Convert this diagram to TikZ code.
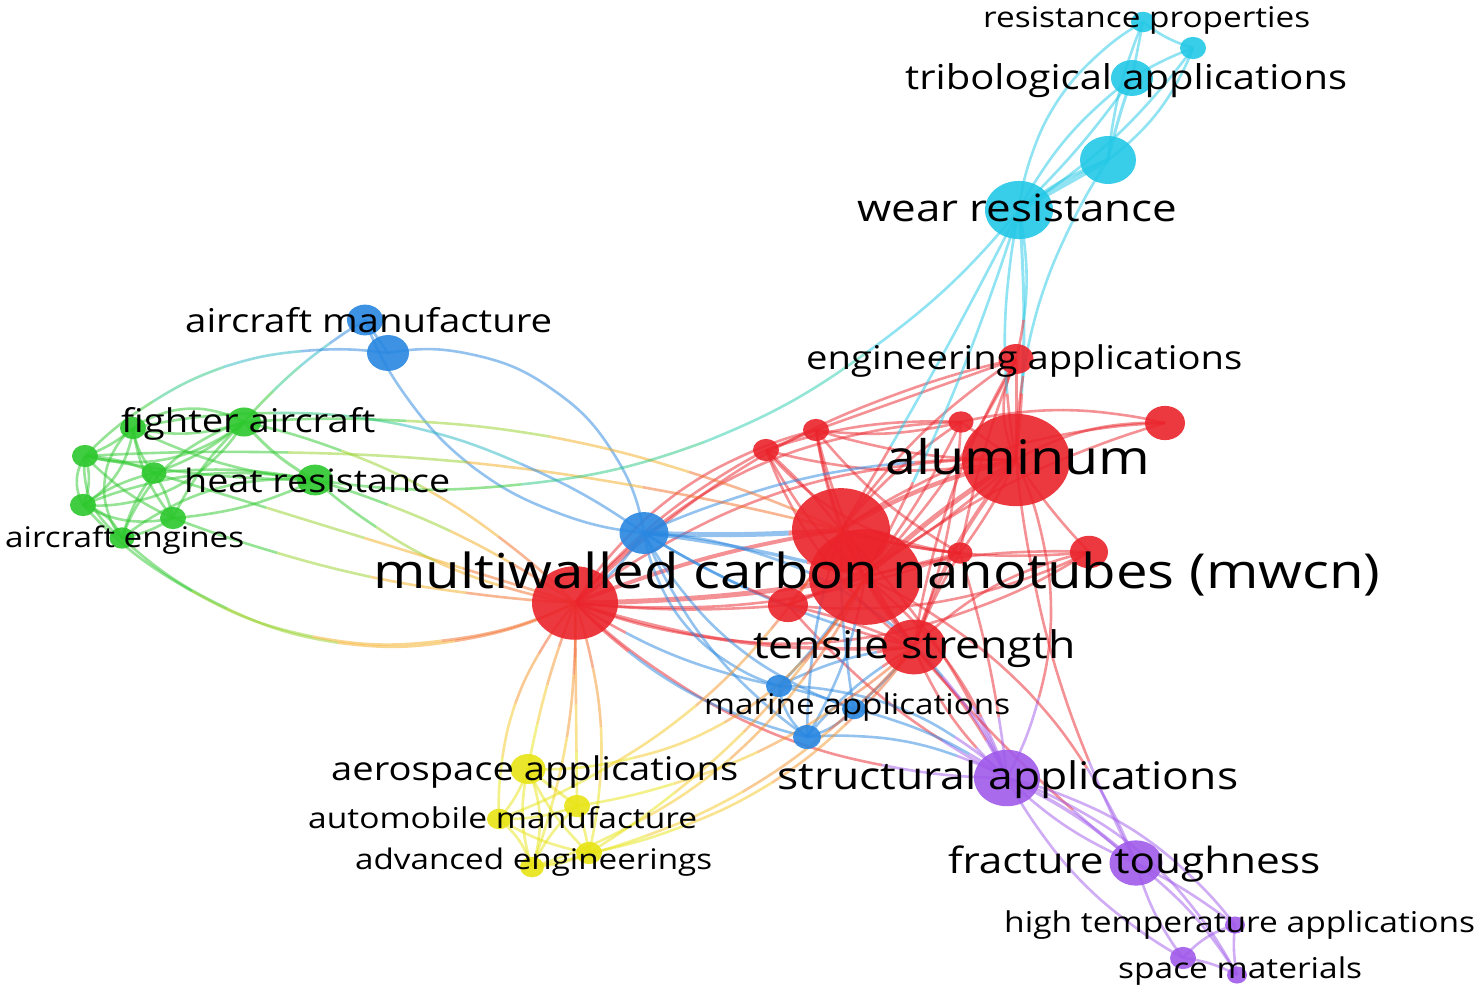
\documentclass[tikz,border=0pt]{standalone}
\usepackage{fontspec}
\setmainfont{Open Sans}
\usepackage{graphicx}
\usetikzlibrary{shapes.geometric}
\pgfdeclarelayer{back}
\pgfdeclarelayer{bg}
\pgfsetlayers{back,bg,main}
% cluster colours
\definecolor{R}{RGB}{235,36,44}
\definecolor{G}{RGB}{45,200,45}
\definecolor{B}{RGB}{40,135,225}
\definecolor{Y}{RGB}{232,228,20}
\definecolor{C}{RGB}{35,200,230}
\definecolor{P}{RGB}{160,90,235}
% blend colours
\definecolor{Lime}{RGB}{150,210,40}
\definecolor{Amb}{RGB}{245,175,35}
\definecolor{Org}{RGB}{242,110,40}
\definecolor{Teal1}{RGB}{40,200,130}
\definecolor{Teal2}{RGB}{40,185,195}
\definecolor{Teal3}{RGB}{40,205,175}
\definecolor{YO1}{RGB}{245,200,35}
\definecolor{YO2}{RGB}{245,150,40}
\definecolor{YO3}{RGB}{240,100,40}
\definecolor{BR1}{RGB}{110,115,220}
\definecolor{BR2}{RGB}{200,75,135}
\definecolor{BP1}{RGB}{80,120,232}
\definecolor{BP2}{RGB}{120,105,235}
\definecolor{RP1}{RGB}{228,55,120}
\definecolor{RP2}{RGB}{220,80,200}
\definecolor{CR1}{RGB}{110,170,180}
\definecolor{CR2}{RGB}{190,105,115}
\newcommand\mypal[5]{\colorlet{#11}{#2}\colorlet{#12}{#3}\colorlet{#13}{#4}\colorlet{#14}{#5}}
\mypal{RR}{R}{R}{R}{R}
\mypal{GG}{G}{G}{G}{G}
\mypal{BB}{B}{B}{B}{B}
\mypal{YY}{Y}{Y}{Y}{Y}
\mypal{CC}{C}{C}{C}{C}
\mypal{PP}{P}{P}{P}{P}
\mypal{GR}{G}{Lime}{Amb}{Org}
\mypal{GB}{G}{Teal1}{Teal2}{B}
\mypal{GC}{G}{Teal1}{Teal3}{C}
\mypal{YR}{Y}{YO1}{YO2}{YO3}
\mypal{BR}{B}{BR1}{BR2}{R}
\mypal{BP}{B}{BP1}{BP2}{P}
\mypal{RP}{R}{RP1}{RP2}{P}
\mypal{CR}{C}{CR1}{CR2}{R}
\tikzset{
  kw/.style={ellipse,inner sep=0pt,outer sep=0pt,draw=none,fill opacity=.9},
  lnk/.style={draw opacity=.5},
  lab/.style={anchor=base west,inner sep=0pt,text=black}
}
\newcommand\mynode[5]{%
  \pgfmathsetmacro\ndw{2*#5}\pgfmathsetmacro\ndh{2*#5/1.17}%
  \node[kw,fill=#2,minimum width=\ndw pt,minimum height=\ndh pt] (#1) at (#3,#4) {};}
\newcommand\mylab[5]{\node[lab] (#1) at (#2,#3) {\resizebox{#4pt}{!}{\scalebox{1}[0.855]{#5}}};}
\newcommand\mylink[5][2.6]{%
  \pgfmathsetmacro\bq{(#4)/4}%
  \path (#2.center) to[bend left=#4] coordinate[pos=.25] (q1) coordinate[pos=.5] (q2) coordinate[pos=.75] (q3) (#3.center);%
  \draw[lnk,line width=#1pt,#51] (#2.center) to[bend left=\bq] (q1);%
  \draw[lnk,line width=#1pt,#52] (q1) to[bend left=\bq] (q2);%
  \draw[lnk,line width=#1pt,#53] (q2) to[bend left=\bq] (q3);%
  \draw[lnk,line width=#1pt,#54] (q3) to[bend left=\bq] (#3.center);}
\begin{document}
\begin{tikzpicture}[x=1pt,y=-1pt]
\begin{pgfonlayer}{back}
\fill[white] (0,0) rectangle (1478,995);
\end{pgfonlayer}
\useasboundingbox (0,0) rectangle (1478,995);
% ---------- nodes ----------
% cyan
\mynode{rp}{C}{1143}{22}{12}
\mynode{c2}{C}{1193}{48}{13}
\mynode{tr}{C}{1132}{78}{21}
\mynode{c4}{C}{1108}{160}{28}
\mynode{wr}{C}{1019}{210}{34}
% blue
\mynode{am}{B}{365}{320}{18}
\mynode{b2}{B}{388}{353}{21}
\mynode{b3}{B}{644}{533}{24.5}
\mynode{ma1}{B}{779}{686}{13}
\mynode{ma}{B}{854}{709}{12}
\mynode{b6}{B}{807}{737}{14}
% green
\mynode{fa}{G}{244}{422}{17}
\mynode{g1}{G}{133}{428}{13}
\mynode{g2}{G}{85}{456}{13}
\mynode{g3}{G}{154}{473}{12.5}
\mynode{hr}{G}{315}{480}{18}
\mynode{g4}{G}{83}{505}{13}
\mynode{g5}{G}{173}{518}{13}
\mynode{ae}{G}{122}{538}{12.5}
% yellow
\mynode{as}{Y}{528}{769}{17.5}
\mynode{y2}{Y}{577}{806}{13}
\mynode{au}{Y}{499}{819}{12}
\mynode{y4}{Y}{589}{853}{13}
\mynode{ad}{Y}{532}{867}{12}
% red
\mynode{ea}{R}{1016}{359}{17.5}
\mynode{r7}{R}{961}{422}{12.5}
\mynode{r8}{R}{816}{430}{13}
\mynode{r9}{R}{766}{450}{13}
\mynode{r10}{R}{1165}{423}{20}
\mynode{al}{R}{1016}{460}{54}
\mynode{r11}{R}{1089}{552}{19}
\mynode{r12}{R}{960}{553}{12.5}
\mynode{r1}{R}{841}{530}{49}
\mynode{mw}{R}{865}{577}{56}
\mynode{r5}{R}{788}{605}{20}
\mynode{r3}{R}{575}{603}{43}
\mynode{ts}{R}{914}{647}{32}
% purple
\mynode{st}{P}{1007}{778}{33}
\mynode{ft}{P}{1136}{863}{26.5}
\mynode{ht}{P}{1235}{925}{10}
\mynode{p4}{P}{1183}{958}{13}
\mynode{sm}{P}{1237}{975}{10}
% ---------- links ----------
\begin{pgfonlayer}{bg}
% red
\mylink[5]{r3}{mw}{-4}{RR}
\mylink[4]{r3}{r1}{6}{RR}
\mylink[3.5]{r3}{ts}{-10}{RR}
\mylink{r3}{r5}{-5}{RR}
\mylink{r3}{r9}{10}{RR}
\mylink{r3}{r8}{20}{RR}
\mylink{r3}{al}{18}{RR}
\mylink{r3}{ea}{15}{RR}
\mylink{r3}{r12}{-12}{RR}
\mylink{r3}{r11}{-25}{RR}
\mylink{r3}{r7}{22}{RR}
\mylink[4]{r1}{mw}{0}{RR}
\mylink[4.5]{r1}{al}{8}{RR}
\mylink[3.5]{r1}{ts}{-8}{RR}
\mylink{r1}{r5}{5}{RR}
\mylink{r1}{r7}{8}{RR}
\mylink{r1}{r8}{5}{RR}
\mylink{r1}{r9}{-5}{RR}
\mylink{r1}{ea}{10}{RR}
\mylink{r1}{r10}{15}{RR}
\mylink{r1}{r11}{-10}{RR}
\mylink{r1}{r12}{-5}{RR}
\mylink[5]{mw}{al}{5}{RR}
\mylink[4]{mw}{ts}{0}{RR}
\mylink{mw}{r5}{0}{RR}
\mylink{mw}{r11}{8}{RR}
\mylink{mw}{r12}{0}{RR}
\mylink{mw}{ea}{-8}{RR}
\mylink{mw}{r10}{10}{RR}
\mylink{mw}{r7}{-5}{RR}
\mylink{mw}{r8}{8}{RR}
\mylink{mw}{r9}{10}{RR}
\mylink[4]{al}{ts}{-10}{RR}
\mylink[3]{al}{ea}{0}{RR}
\mylink{al}{ea}{25}{RR}
\mylink{al}{r7}{0}{RR}
\mylink{al}{r8}{8}{RR}
\mylink{al}{r9}{12}{RR}
\mylink{al}{r10}{15}{RR}
\mylink{al}{r11}{-5}{RR}
\mylink{al}{r12}{5}{RR}
\mylink{al}{r5}{10}{RR}
\mylink{ts}{r11}{15}{RR}
\mylink{ts}{r12}{5}{RR}
\mylink{ts}{r5}{-5}{RR}
\mylink{ts}{ea}{10}{RR}
\mylink{ts}{r8}{10}{RR}
\mylink{ts}{r9}{15}{RR}
\mylink{ts}{r7}{-8}{RR}
\mylink{r8}{r9}{0}{RR}
\mylink{r9}{r7}{10}{RR}
\mylink{r8}{r7}{-10}{RR}
\mylink{r8}{r12}{-10}{RR}
\mylink{r5}{r11}{-15}{RR}
\mylink{r10}{r7}{-12}{RR}
\mylink{ea}{r8}{0}{RR}
\mylink{ea}{r12}{-5}{RR}
\mylink{r9}{r12}{-20}{RR}
% red - purple
\mylink{al}{st}{25}{RP}
\mylink{mw}{st}{15}{RP}
\mylink{ts}{st}{8}{RP}
\mylink{ts}{st}{-12}{RP}
\mylink{r3}{st}{-20}{RP}
\mylink{r1}{st}{10}{RP}
\mylink{al}{ft}{-10}{RP}
\mylink{mw}{ft}{20}{RP}
\mylink{ts}{ft}{-5}{RP}
\mylink{r5}{st}{-10}{RP}
\mylink{r12}{st}{5}{RP}
% purple
\mylink[3.5]{st}{ft}{8}{PP}
\mylink{st}{ft}{-10}{PP}
\mylink{st}{ht}{18}{PP}
\mylink{st}{sm}{20}{PP}
\mylink{st}{p4}{-15}{PP}
\mylink{ft}{ht}{5}{PP}
\mylink{ft}{sm}{10}{PP}
\mylink{ft}{p4}{-10}{PP}
\mylink{ht}{sm}{-8}{PP}
\mylink{ht}{p4}{-15}{PP}
\mylink{p4}{sm}{10}{PP}
% blue
\mylink{am}{b2}{0}{BB}
\mylink{b2}{b3}{45}{BB}
\mylink{am}{b3}{-30}{BB}
\mylink[5]{b3}{r1}{-3}{BR}
\mylink[3.5]{b3}{mw}{4}{BR}
\mylink{b3}{ts}{-8}{BR}
\mylink{b3}{al}{12}{BR}
\mylink{b3}{r5}{-5}{BR}
\mylink{b3}{ma1}{-30}{BB}
\mylink{b3}{ma}{-20}{BB}
\mylink{b3}{b6}{-15}{BB}
\mylink{b3}{r3}{10}{BR}
\mylink{b3}{st}{30}{BP}
\mylink{ma1}{ma}{5}{BB}
\mylink{ma1}{b6}{-20}{BB}
\mylink{ma}{b6}{15}{BB}
\mylink{ma1}{ts}{10}{BR}
\mylink{ma}{ts}{-5}{BR}
\mylink{b6}{ts}{10}{BR}
\mylink{ma1}{mw}{-5}{BR}
\mylink{b6}{mw}{-10}{BR}
\mylink{ma}{r1}{5}{BR}
\mylink{b6}{r1}{8}{BR}
\mylink{ma1}{st}{20}{BP}
\mylink{ma}{st}{10}{BP}
\mylink{b6}{st}{15}{BP}
\mylink{ma1}{r3}{10}{BR}
\mylink{b6}{r3}{15}{BR}
% cyan
\mylink[5]{wr}{c4}{0}{CC}
\mylink[3]{wr}{c4}{8}{CC}
\mylink{wr}{tr}{12}{CC}
\mylink{wr}{tr}{-5}{CC}
\mylink{wr}{rp}{25}{CC}
\mylink{wr}{c2}{-10}{CC}
\mylink[3]{c4}{tr}{3}{CC}
\mylink{c4}{rp}{8}{CC}
\mylink{c4}{c2}{-15}{CC}
\mylink{tr}{rp}{0}{CC}
\mylink{tr}{c2}{5}{CC}
\mylink{rp}{c2}{-10}{CC}
\mylink[3]{wr}{al}{5}{CR}
\mylink{wr}{al}{-10}{CR}
\mylink{wr}{ea}{12}{CR}
\mylink{wr}{r1}{2}{CR}
\mylink{wr}{mw}{5}{CR}
\mylink{c4}{al}{-15}{CR}
% yellow
\mylink[3]{as}{y2}{0}{YY}
\mylink{as}{au}{10}{YY}
\mylink{as}{ad}{20}{YY}
\mylink{as}{ad}{-15}{YY}
\mylink{as}{y4}{-10}{YY}
\mylink{y2}{au}{10}{YY}
\mylink{y2}{y4}{5}{YY}
\mylink{y2}{ad}{-10}{YY}
\mylink{au}{ad}{15}{YY}
\mylink{au}{y4}{-10}{YY}
\mylink{y4}{ad}{10}{YY}
% yellow - red
\mylink{au}{r3}{20}{YR}
\mylink{as}{r3}{5}{YR}
\mylink{y2}{r3}{0}{YR}
\mylink{ad}{r3}{-10}{YR}
\mylink{y4}{r3}{-15}{YR}
\mylink{as}{mw}{-30}{YR}
\mylink{y2}{ts}{-15}{YR}
\mylink{y4}{ts}{-20}{YR}
\mylink{ad}{mw}{-22}{YR}
\mylink{au}{r1}{-18}{YR}
\mylink{y4}{mw}{-12}{YR}
\mylink{ad}{ts}{-18}{YR}
% green
\mylink{fa}{g1}{15}{GG}
\mylink{fa}{g1}{-30}{GG}
\mylink{fa}{g2}{25}{GG}
\mylink{fa}{g3}{10}{GG}
\mylink[3]{fa}{hr}{-10}{GG}
\mylink{fa}{g4}{30}{GG}
\mylink{fa}{g5}{-10}{GG}
\mylink{fa}{ae}{-25}{GG}
\mylink{g1}{g2}{10}{GG}
\mylink{g1}{g3}{-15}{GG}
\mylink{g1}{g4}{25}{GG}
\mylink{g1}{g5}{-15}{GG}
\mylink{g1}{ae}{-45}{GG}
\mylink{g1}{hr}{-10}{GG}
\mylink{g2}{g3}{10}{GG}
\mylink{g2}{g4}{-30}{GG}
\mylink{g2}{g4}{20}{GG}
\mylink{g2}{g5}{-10}{GG}
\mylink{g2}{hr}{-5}{GG}
\mylink{g2}{ae}{-30}{GG}
\mylink{g3}{g4}{-10}{GG}
\mylink{g3}{g5}{10}{GG}
\mylink{g3}{hr}{8}{GG}
\mylink{g3}{ae}{-10}{GG}
\mylink{g4}{g5}{-20}{GG}
\mylink{g4}{hr}{15}{GG}
\mylink{g4}{ae}{25}{GG}
\mylink{g5}{hr}{-10}{GG}
\mylink{g5}{ae}{10}{GG}
\mylink{ae}{hr}{20}{GG}
% green - others
\mylink{fa}{r1}{13}{GR}
\mylink{g2}{r1}{8}{GR}
\mylink{fa}{r3}{15}{GR}
\mylink{hr}{r3}{8}{GR}
\mylink{hr}{r3}{-15}{GR}
\mylink{g3}{r3}{0}{GR}
\mylink{g5}{r3}{-8}{GR}
\mylink{ae}{r3}{-33}{GR}
\mylink{g4}{r3}{-35}{GR}
\mylink{fa}{am}{8}{GB}
\mylink{g2}{b2}{25}{GB}
\mylink{g1}{b3}{22}{GB}
\mylink{hr}{wr}{-28}{GC}
\end{pgfonlayer}
% ---------- labels ----------
\mylab{l1}{983}{28}{327}{resistance properties}
\mylab{l2}{905}{90}{442}{tribological applications}
\mylab{l3}{857}{222}{320}{wear resistance}
\mylab{l4}{185}{332}{367}{aircraft manufacture}
\mylab{l5}{806}{369}{436}{engineering applications}
\mylab{l6}{121}{432}{254}{fighter aircraft}
\mylab{l7}{184}{492}{266}{heat resistance}
\mylab{l8}{885}{474}{265}{aluminum}
\mylab{l9}{5}{547}{239}{aircraft engines}
\mylab{l10}{373}{588}{1007}{multiwalled carbon nanotubes (mwcn)}
\mylab{l11}{753}{658}{322}{tensile strength}
\mylab{l12}{704}{714}{306}{marine applications}
\mylab{l13}{331}{780}{407}{aerospace applications}
\mylab{l14}{777}{789}{461}{structural applications}
\mylab{l15}{308}{828}{389}{automobile manufacture}
\mylab{l16}{355}{869}{357}{advanced engineerings}
\mylab{l17}{948}{873}{372}{fracture toughness}
\mylab{l18}{1004}{932}{471}{high temperature applications}
\mylab{l19}{1118}{978}{244}{space materials}
\end{tikzpicture}
\end{document}
